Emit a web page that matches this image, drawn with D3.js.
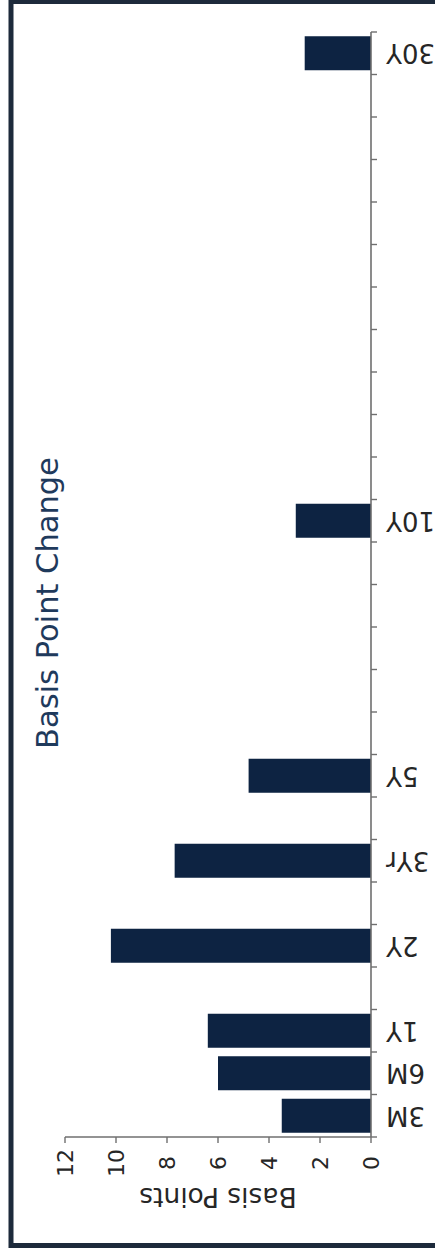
<!DOCTYPE html>
<html>
<head>
<meta charset="utf-8">
<script src="https://cdn.jsdelivr.net/npm/d3@7"></script>
<style>
  html, body { margin: 0; padding: 0; background: #ffffff; }
  svg { display: block; }
</style>
</head>
<body>
<svg id="chart" width="435" height="1257"></svg>
<script>
// Maturities along the curve; blank slots keep the spacing of the axis
const categories = ["3M", "6M", "1Y", "", "2Y", "", "3Yr", "", "5Y",
  "", "", "", "", "", "10Y",
  "", "", "", "", "", "", "", "", "", "", "30Y"];
// Basis point change per maturity (null = no bar)
const values = [3.5, 6.0, 6.4, null, 10.2, null, 7.7, null, 4.8,
  null, null, null, null, null, 2.95,
  null, null, null, null, null, null, null, null, null, null, 2.6];
const valueTicks = [0, 2, 4, 6, 8, 10, 12];

const titleText = "Basis Point Change";
const axisTitle = "Basis Points";

const FONT = "'DejaVu Sans', Arial, sans-serif";
const BAR = "#0d2342";
const AXIS = "#6f6f6f";
const TEXT = "#262626";

const svg = d3.select("#chart");

// Outer frame (right edge runs past the canvas)
svg.append("rect")
  .attr("x", 11).attr("y", 1.5)
  .attr("width", 460).attr("height", 1244)
  .attr("fill", "#ffffff")
  .attr("stroke", "#1d2a3b")
  .attr("stroke-width", 5);

// Scales: the value axis runs right-to-left, categories bottom-to-top
const x = d3.scaleLinear().domain([0, 12]).range([371, 65]);
const idx = d3.range(categories.length);
const slot = d3.scaleBand().domain(idx).range([1137, 32]).padding(0);
const band = d3.scaleBand().domain(idx).range([1137, 32])
  .paddingInner(0.2).paddingOuter(0.1);

// Bars
svg.append("g")
  .selectAll("rect")
  .data(idx.filter(i => values[i] != null))
  .join("rect")
  .attr("x", i => x(values[i]))
  .attr("y", i => band(i))
  .attr("width", i => x(0) - x(values[i]))
  .attr("height", band.bandwidth())
  .attr("fill", BAR);

// Category axis (vertical line at zero)
const catAxis = svg.append("g");
catAxis.append("line")
  .attr("x1", x(0)).attr("x2", x(0))
  .attr("y1", slot.range()[1]).attr("y2", slot.range()[0])
  .attr("stroke", AXIS).attr("stroke-width", 1.6);

const boundaries = idx.map(i => slot(i)).concat([slot.range()[0]]);
catAxis.selectAll("line.tick")
  .data(boundaries)
  .join("line")
  .attr("class", "tick")
  .attr("x1", x(0)).attr("x2", x(0) + 6)
  .attr("y1", d => d).attr("y2", d => d)
  .attr("stroke", AXIS).attr("stroke-width", 1.4);

catAxis.selectAll("text")
  .data(idx.filter(i => categories[i] !== ""))
  .join("text")
  .attr("transform", i => `translate(386,${slot(i) + slot.bandwidth() / 2}) rotate(180)`)
  .attr("text-anchor", "end")
  .attr("dy", "0.35em")
  .attr("font-family", FONT)
  .attr("font-size", 26)
  .attr("fill", TEXT)
  .text(i => categories[i]);

// Value axis (horizontal line along the bottom)
const valAxis = svg.append("g");
valAxis.append("line")
  .attr("x1", x(12)).attr("x2", x(0))
  .attr("y1", 1137).attr("y2", 1137)
  .attr("stroke", AXIS).attr("stroke-width", 1.6);

valAxis.selectAll("line.tick")
  .data(valueTicks)
  .join("line")
  .attr("class", "tick")
  .attr("x1", d => x(d)).attr("x2", d => x(d))
  .attr("y1", 1137).attr("y2", 1143)
  .attr("stroke", AXIS).attr("stroke-width", 1.4);

valAxis.selectAll("text")
  .data(valueTicks)
  .join("text")
  .attr("transform", d => `translate(${x(d)},1163) rotate(-90)`)
  .attr("text-anchor", "middle")
  .attr("dy", "0.35em")
  .attr("font-family", FONT)
  .attr("font-size", 22)
  .attr("fill", TEXT)
  .text(d => d);

// Value axis title
svg.append("text")
  .attr("transform", `translate(${(x(0) + x(12)) / 2},1188) rotate(180)`)
  .attr("text-anchor", "middle")
  .attr("font-family", FONT)
  .attr("font-size", 26.5)
  .attr("fill", TEXT)
  .text(axisTitle);

// Chart title
svg.append("text")
  .attr("transform", "translate(58,603) rotate(-90)")
  .attr("text-anchor", "middle")
  .attr("font-family", FONT)
  .attr("font-size", 30.5)
  .attr("fill", "#1f3a5c")
  .text(titleText);
</script>
</body>
</html>
